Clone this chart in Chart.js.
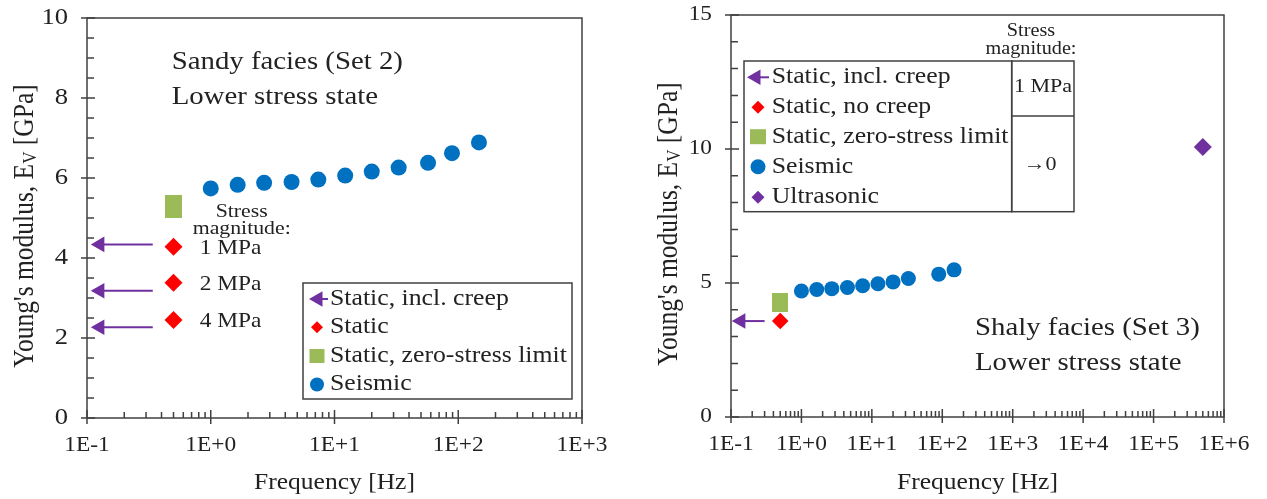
<!DOCTYPE html>
<html>
<head>
<meta charset="utf-8">
<script src="https://cdn.jsdelivr.net/npm/chart.js@4.4.0/dist/chart.umd.min.js"></script>
<style>
  html, body { margin: 0; padding: 0; background: #fff; }
  #wrap { position: relative; width: 1267px; height: 499px; }
  canvas { position: absolute; top: 0; }
  #sandy { left: 0; }
  #shaly { left: 625px; }
</style>
</head>
<body>
<div id="wrap">
  <canvas id="sandy" width="625" height="499"></canvas>
  <canvas id="shaly" width="642" height="499"></canvas>
</div>
<script>
// Seismic (forced oscillation) frequencies [Hz] and moduli [GPa]
const sandyFreq = [1, 1.65, 2.7, 4.5, 7.4, 12.2, 20, 33, 57, 89, 147];
const sandySeismic = [5.74, 5.83, 5.88, 5.9, 5.96, 6.06, 6.16, 6.26, 6.38, 6.62, 6.89];
const shalyFreq = [1, 1.65, 2.7, 4.5, 7.4, 12.2, 20, 33, 89, 147];
const shalySeismic = [4.70, 4.76, 4.79, 4.83, 4.90, 4.97, 5.04, 5.17, 5.33, 5.49];

// Static tests sit at 0.5 Hz, creep values are arrows pointing at the left axis
const staticFreq = 0.5;
const sandyStress = ['1 MPa', '2 MPa', '4 MPa'];
const sandyStatic = [4.28, 3.38, 2.45];
const sandyCreep = [4.34, 3.18, 2.27];
const sandyZeroStress = [5.28];
const shalyStatic = [3.58];
const shalyCreep = [3.58];
const shalyZeroStress = [4.26];
const ultrasonicFreq = [5e5];
const shalyUltrasonic = [10.07];
const creepHead = [0.127, 0.138];   // sandy, shaly
const creepTail = [0.34, 0.30];

// axis ticks
const sandyXTicks = [1e-1, 1e0, 1e1, 1e2, 1e3];
const shalyXTicks = [1e-1, 1e0, 1e1, 1e2, 1e3, 1e4, 1e5, 1e6];
const sandyYTicks = [0, 2, 4, 6, 8, 10];
const shalyYTicks = [0, 5, 10, 15];

const PURPLE = '#7030A0', RED = '#FF0000', GREEN = '#9BBB59', BLUE = '#0070C0';
const INK = '#222', FRAME = '#404040';
const SERIF = '"Liberation Serif", "Times New Roman", serif';
const SX = 1.13; // the figure's Times lettering is a bit wide

function sci(v) {
  const e = Math.round(Math.log10(v));
  return '1E' + (e < 0 ? '-' : '+') + Math.abs(e);
}

function rectMarker(w, h) {
  const c = document.createElement('canvas');
  c.width = w; c.height = h;
  const g = c.getContext('2d');
  g.fillStyle = GREEN;
  g.fillRect(0, 0, w, h);
  return c;
}

function text(ctx, str, x, y, size, align = 'left', base = 'middle') {
  ctx.save();
  ctx.font = size + 'px ' + SERIF;
  ctx.textBaseline = base;
  ctx.textAlign = 'left';
  const w = ctx.measureText(str).width * SX;
  const x0 = align === 'center' ? x - w / 2 : align === 'right' ? x - w : x;
  ctx.translate(x0, y);
  ctx.scale(SX, 1);
  ctx.fillStyle = INK;
  ctx.fillText(str, 0, 0);
  ctx.restore();
}

// rotated axis title with the subscript V
function yTitle(ctx, cx, cy) {
  const parts = [["Young's modulus, E", 25.5, 0], ['V', 17, 5], [' [GPa]', 25.5, 0]];
  ctx.save();
  ctx.translate(cx, cy);
  ctx.rotate(-Math.PI / 2);
  ctx.scale(1, SX);
  ctx.fillStyle = INK;
  ctx.textBaseline = 'middle';
  let total = 0;
  const widths = parts.map(([s, f]) => {
    ctx.font = f + 'px ' + SERIF;
    const w = ctx.measureText(s).width;
    total += w;
    return w;
  });
  let px = -total / 2;
  parts.forEach(([s, f, dy], i) => {
    ctx.font = f + 'px ' + SERIF;
    ctx.fillText(s, px, dy);
    px += widths[i];
  });
  ctx.restore();
}

function icon(ctx, kind, cx, cy, color, a, b) {
  ctx.save();
  ctx.fillStyle = color;
  ctx.strokeStyle = color;
  ctx.beginPath();
  if (kind === 'circle') {
    ctx.arc(cx, cy, a, 0, Math.PI * 2);
  } else if (kind === 'diamond') {
    ctx.moveTo(cx, cy - a); ctx.lineTo(cx + a, cy);
    ctx.lineTo(cx, cy + a); ctx.lineTo(cx - a, cy);
    ctx.closePath();
  } else if (kind === 'rect') {
    ctx.rect(cx - a / 2, cy - b / 2, a, b);
  } else if (kind === 'arrow') {
    ctx.moveTo(cx - a, cy);
    ctx.lineTo(cx + a / 2, cy - a * 0.866);
    ctx.lineTo(cx + a / 2, cy + a * 0.866);
    ctx.closePath();
    ctx.fill();
    ctx.beginPath();
    ctx.lineWidth = 2;
    ctx.moveTo(cx, cy); ctx.lineTo(cx + b, cy);
    ctx.stroke();
  }
  ctx.fill();
  ctx.restore();
}

function legendBox(ctx, box, rows, iconX, textX) {
  ctx.save();
  ctx.strokeStyle = FRAME;
  ctx.lineWidth = 1.5;
  ctx.strokeRect(box[0], box[1], box[2], box[3]);
  ctx.restore();
  rows.forEach(r => {
    icon(ctx, r.kind, iconX + (r.dx || 0), r.y, r.color, r.a, r.b);
    text(ctx, r.label, textX, r.y, 22.8);
  });
}

function arrow(head, tail, v) {
  return {
    showLine: true,
    data: [{x: tail, y: v}, {x: head, y: v}],
    borderColor: PURPLE,
    borderWidth: 2,
    pointBackgroundColor: PURPLE,
    pointBorderWidth: 0,
    pointStyle: 'triangle',
    pointRotation: -90,
    pointRadius: [0, 9]
  };
}

function marks(xs, ys, style) {
  return Object.assign({
    data: ys.map((v, i) => ({x: Array.isArray(xs) ? xs[i] : xs, y: v})),
    pointBorderWidth: 0
  }, style);
}

// frame, inward minor ticks, crossing major ticks and all axis lettering
function axesPlugin(cfg) {
  return {
    id: 'axes',
    afterDraw(chart) {
      const {ctx, chartArea: a, scales: {x, y}} = chart;
      ctx.save();
      ctx.strokeStyle = FRAME;
      ctx.lineWidth = 1.5;
      ctx.strokeRect(a.left, a.top, a.right - a.left, a.bottom - a.top);
      ctx.beginPath();
      cfg.xTicks.forEach((d, i) => {
        const px = x.getPixelForValue(d);
        ctx.moveTo(px, a.bottom + 6); ctx.lineTo(px, a.bottom - 8);
        if (i < cfg.xTicks.length - 1) {
          for (let m = 2; m < 10; m++) {
            const mx = x.getPixelForValue(d * m);
            ctx.moveTo(mx, a.bottom); ctx.lineTo(mx, a.bottom - 6);
          }
        }
      });
      const ymax = cfg.yTicks[cfg.yTicks.length - 1];
      for (let v = 0; v <= ymax + 1e-9; v += cfg.yMinor) {
        const py = y.getPixelForValue(v);
        if (cfg.yTicks.includes(v)) {
          ctx.moveTo(a.left - 6, py); ctx.lineTo(a.left + 8, py);
        } else {
          ctx.moveTo(a.left, py); ctx.lineTo(a.left + 7, py);
        }
      }
      ctx.stroke();
      ctx.restore();

      cfg.xTicks.forEach(d => text(ctx, sci(d), x.getPixelForValue(d), a.bottom + 28, 20.7, 'center'));
      cfg.yTicks.forEach(v => text(ctx, String(v), a.left - 19, y.getPixelForValue(v), cfg.yFont, 'right'));
      text(ctx, 'Frequency [Hz]', (a.left + a.right) / 2, 483, 22.6, 'center');
      yTitle(ctx, a.left - 62, (a.top + a.bottom) / 2 + 8);
    }
  };
}

function makeChart(id, cfg) {
  const canvas = document.getElementById(id);
  return new Chart(canvas, {
    type: 'scatter',
    data: {datasets: cfg.datasets},
    options: {
      responsive: false,
      animation: false,
      devicePixelRatio: 1,
      layout: {padding: {top: cfg.area.top, right: canvas.width - cfg.area.right, left: 0, bottom: 0}},
      plugins: {legend: {display: false}, tooltip: {enabled: false}},
      scales: {
        x: {
          type: 'logarithmic',
          min: cfg.xTicks[0],
          max: cfg.xTicks[cfg.xTicks.length - 1],
          grid: {display: false}, border: {display: false}, ticks: {display: false},
          afterFit: s => { s.height = canvas.height - cfg.area.bottom; }
        },
        y: {
          min: 0,
          max: cfg.yTicks[cfg.yTicks.length - 1],
          grid: {display: false}, border: {display: false}, ticks: {display: false},
          afterFit: s => { s.width = cfg.area.left; }
        }
      }
    },
    plugins: [axesPlugin(cfg), {id: 'notes', afterDraw: cfg.notes}]
  });
}

// ---- Sandy facies (Set 2)
makeChart('sandy', {
  area: {left: 87, right: 582, top: 18, bottom: 418},
  xTicks: sandyXTicks, yTicks: sandyYTicks, yMinor: 0.5, yFont: 23.5,
  datasets: [
    marks(sandyFreq, sandySeismic, {pointStyle: 'circle', pointRadius: 8, pointBackgroundColor: BLUE}),
    marks(staticFreq, sandyZeroStress, {pointStyle: rectMarker(17, 23), pointRadius: 8}),
    marks(staticFreq, sandyStatic, {pointStyle: 'rectRot', pointRadius: 9, pointBackgroundColor: RED}),
    ...sandyCreep.map(v => arrow(creepHead[0], creepTail[0], v))
  ],
  notes(chart) {
    const {ctx, scales: {x, y}} = chart;
    text(ctx, 'Sandy facies (Set 2)', 171.7, 69.3, 25.5, 'left', 'alphabetic');
    text(ctx, 'Lower stress state', 171.7, 104, 25.5, 'left', 'alphabetic');
    text(ctx, 'Stress', 241.7, 211.7, 19.3, 'center');
    text(ctx, 'magnitude:', 241.7, 229.3, 19.3, 'center');
    const sx = x.getPixelForValue(staticFreq);
    sandyStress.forEach((s, i) => text(ctx, s, sx + 57, y.getPixelForValue(sandyStatic[i]) + 2, 20.7, 'center'));
    legendBox(ctx, [303, 283, 269, 116], [
      {kind: 'arrow', color: PURPLE, a: 9, b: 10, dx: 1, y: 299, label: 'Static, incl. creep'},
      {kind: 'diamond', color: RED, a: 6, y: 327.3, label: 'Static'},
      {kind: 'rect', color: GREEN, a: 15, b: 14, y: 356, label: 'Static, zero-stress limit'},
      {kind: 'circle', color: BLUE, a: 7, y: 384.5, label: 'Seismic'}
    ], 317, 330);
  }
});

// ---- Shaly facies (Set 3)
makeChart('shaly', {
  area: {left: 106, right: 599, top: 15, bottom: 417},
  xTicks: shalyXTicks, yTicks: shalyYTicks, yMinor: 1, yFont: 20.6,
  datasets: [
    marks(shalyFreq, shalySeismic, {pointStyle: 'circle', pointRadius: 7.5, pointBackgroundColor: BLUE}),
    marks(staticFreq, shalyZeroStress, {pointStyle: rectMarker(16, 19), pointRadius: 8}),
    marks(staticFreq, shalyStatic, {pointStyle: 'rectRot', pointRadius: 8.3, pointBackgroundColor: RED}),
    marks(ultrasonicFreq, shalyUltrasonic, {pointStyle: 'rectRot', pointRadius: 9, pointBackgroundColor: PURPLE}),
    ...shalyCreep.map(v => arrow(creepHead[1], creepTail[1], v))
  ],
  notes(chart) {
    const {ctx} = chart;
    text(ctx, 'Shaly facies (Set 3)', 350, 335, 25.5, 'left', 'alphabetic');
    text(ctx, 'Lower stress state', 350, 370, 25.5, 'left', 'alphabetic');
    legendBox(ctx, [119, 61, 267.7, 150.7], [
      {kind: 'arrow', color: PURPLE, a: 9, b: 13, dx: -2, y: 77.3, label: 'Static, incl. creep'},
      {kind: 'diamond', color: RED, a: 6.5, y: 107.3, label: 'Static, no creep'},
      {kind: 'rect', color: GREEN, a: 16, b: 15, y: 136.7, label: 'Static, zero-stress limit'},
      {kind: 'circle', color: BLUE, a: 7.5, y: 166.7, label: 'Seismic'},
      {kind: 'diamond', color: PURPLE, a: 6.5, y: 197.3, label: 'Ultrasonic'}
    ], 133, 146.7);
    // stress magnitude table beside the legend
    ctx.save();
    ctx.strokeStyle = FRAME;
    ctx.lineWidth = 1.5;
    ctx.strokeRect(386.7, 61, 62.3, 150.7);
    ctx.beginPath();
    ctx.moveTo(386.7, 116); ctx.lineTo(449, 116);
    ctx.stroke();
    ctx.restore();
    text(ctx, 'Stress', 406, 31.7, 17.9, 'center');
    text(ctx, 'magnitude:', 406, 49.3, 17.9, 'center');
    text(ctx, '1 MPa', 418, 87, 19.5, 'center');
    text(ctx, '\u21920', 415, 165, 19.5, 'center');
  }
});
</script>
</body>
</html>
